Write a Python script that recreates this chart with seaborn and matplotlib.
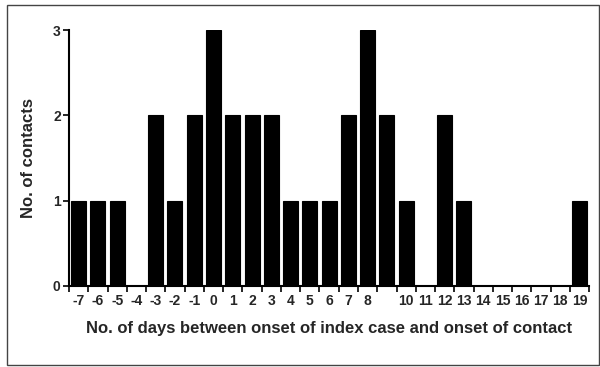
import matplotlib
matplotlib.use("Agg")
import matplotlib.pyplot as plt
import seaborn as sns
import numpy as np
import pandas as pd
from matplotlib.patches import Rectangle

days = list(range(-7, 20))
contacts = [1, 1, 1, 0, 2, 1, 2, 3, 2, 2, 2, 1, 1, 1, 2, 3, 2, 1, 0, 2, 1, 0, 0, 0, 0, 0, 1]
tick_labels = [str(d) if d != 9 else "" for d in days]
y_ticks = [0, 1, 2, 3]

sns.set_theme(style="white")
plt.rcParams['font.family'] = ['Liberation Sans', 'DejaVu Sans']

df = pd.DataFrame({"day": [str(d) for d in days], "n": contacts})

fig = plt.figure(figsize=(6, 3.67), dpi=100)
ax = fig.add_axes([0.115, 0.221, 0.867, 0.697])
sns.barplot(data=df, x="day", y="n", order=df["day"], color="black",
            width=0.78, edgecolor="black", linewidth=0.8, ax=ax, saturation=1)

ax.set_xlim(-0.5, len(days) - 0.5)
ax.set_ylim(0, 3)
ax.set_yticks(y_ticks)
ax.set_yticklabels([str(v) for v in y_ticks], fontweight="bold", fontsize=10)
ax.set_xticks(np.arange(len(days)))
ax.set_xticklabels(tick_labels, fontweight="bold", fontsize=10)
ax.set_xticks(np.arange(len(days) + 1) - 0.5, minor=True)
ax.tick_params(axis="x", which="major", length=0, pad=6)
ax.tick_params(axis="x", which="minor", length=4, width=1.2, color="black", bottom=True)
ax.tick_params(axis="y", length=4, width=1.2, color="black", left=True, pad=2)

for s in ["top", "right"]:
    ax.spines[s].set_visible(False)
for s in ["left", "bottom"]:
    ax.spines[s].set_color("black")
    ax.spines[s].set_linewidth(1.5)

ax.set_xlabel("No. of days between onset of index case and onset of contact",
              fontweight="bold", fontsize=12, labelpad=9)
ax.set_ylabel("No. of contacts", fontweight="bold", fontsize=12, labelpad=12)

fig.patches.append(Rectangle((0.012, 0.005), 0.987, 0.982, transform=fig.transFigure,
                             fill=False, edgecolor="#444444", linewidth=1))

fig.savefig("out.png", dpi=100)
